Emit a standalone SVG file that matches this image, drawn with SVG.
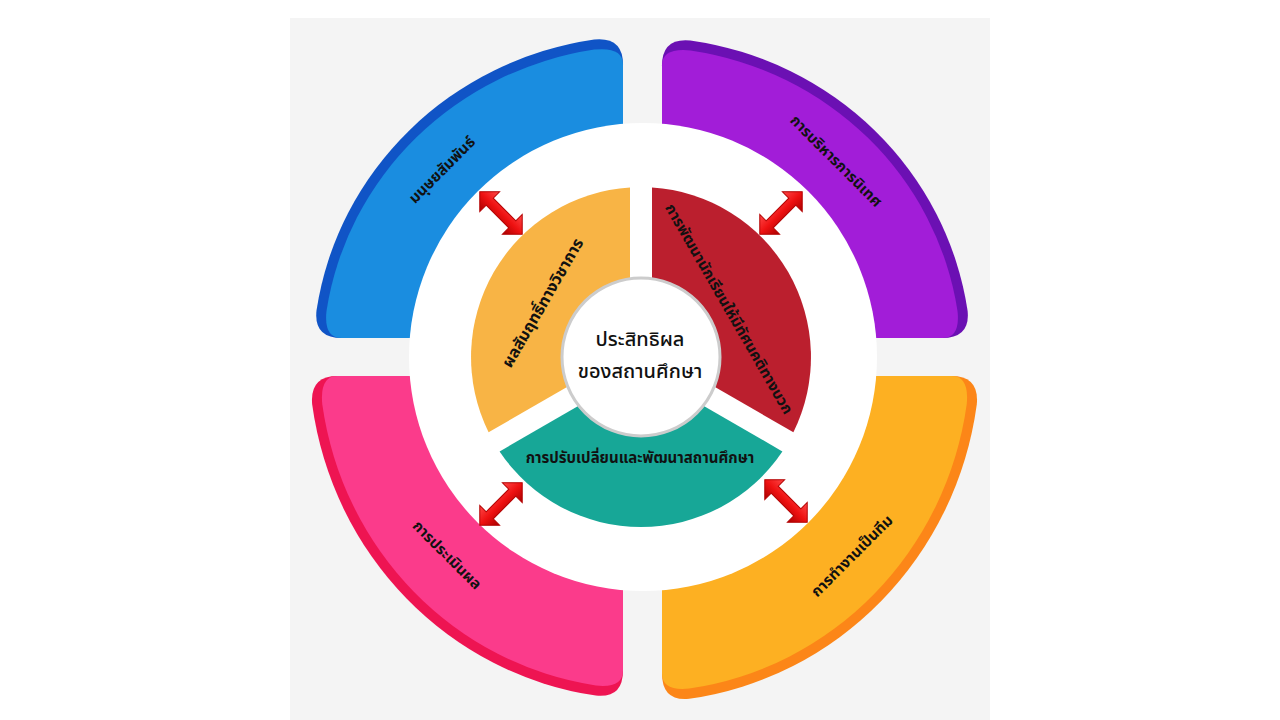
<svg xmlns="http://www.w3.org/2000/svg" width="1280" height="720" viewBox="0 0 1280 720">
<defs>
<style>
.th{font-family:"Noto Sans Thai","Noto Sans","Leelawadee UI","DejaVu Sans",sans-serif;fill:#111;}
.b{font-weight:bold;}
.pt{font-size:15px;}
.it{font-size:16px;}
.it2{font-size:15px;}
.ct{font-size:20px;font-weight:500;}
.arrow{fill:url(#ag);stroke:#b30000;stroke-width:1;}
</style>
<linearGradient id="ag" x1="0" y1="0" x2="0" y2="1">
<stop offset="0" stop-color="#ff4a4a"/>
<stop offset="0.5" stop-color="#ee1111"/>
<stop offset="1" stop-color="#a80000"/>
</linearGradient>
<path id="dbl" d="M-30,0 L-16,-14 L-16,-5 L16,-5 L16,-14 L30,0 L16,14 L16,5 L-16,5 L-16,14 Z"/>
</defs>
<rect x="0" y="0" width="1280" height="720" fill="#ffffff"/>
<rect x="290" y="18" width="700" height="702" fill="#f4f4f4"/>

<g id="petal-blue">
<path d="M623,338 L623,64.6 Q623,36.6 594.2,39.5 A330,321 0 0 0 316.5,310.6 Q313.6,338 341.6,338 Z" fill="#1054c6"/>
<path d="M623,338 L623,64.6 Q623,46.6 594.3,49.6 A320,311 0 0 0 326.5,311 Q323.6,338 341.6,338 Z" fill="#1a8de0"/>
</g>
<g id="petal-purple">
<path d="M662,338 L662,65.5 Q662,37.5 690.4,40.4 A328,320 0 0 1 967.6,310.8 Q970.4,338 942.4,338 Z" fill="#6b10b3"/>
<path d="M662,338 L662,65.5 Q662,47.6 690.5,50.5 A318,310 0 0 1 957.5,310.9 Q960.4,338 942.4,338 Z" fill="#a21dd8"/>
</g>
<g id="petal-pink">
<path d="M623,376 L337.5,376 Q309.5,376 312.2,404.6 A334,342 0 0 0 595.8,695.6 Q623,698.4 623,670.4 Z" fill="#ee1452"/>
<path d="M623,376 L337.5,376 Q319.5,376 322.3,404.6 A324,332 0 0 0 595.8,685.5 Q623,688.4 623,670.4 Z" fill="#fb3b8b"/>
</g>
<g id="petal-orange">
<path d="M662,376 L951.5,376 Q979.5,376 976.8,404.5 A337,345 0 0 1 689.2,698.8 Q662,701.5 662,673.5 Z" fill="#fc8618"/>
<path d="M662,376 L951.5,376 Q969.5,376 966.7,404.5 A327,335 0 0 1 689.2,688.6 Q662,691.4 662,673.5 Z" fill="#fdb022"/>
</g>

<circle id="ring" cx="643" cy="357" r="234" fill="#ffffff"/>

<g id="sector-yellow">
<path d="M630,350.65 L488.6,432.3 A170,170 0 0 1 630,187.4 Z" fill="#f8b445"/>
</g>
<g id="sector-red">
<path d="M652,350.65 L652,187.4 A170,170 0 0 1 793.4,432.3 Z" fill="#bb1f2e"/>
</g>
<g id="sector-teal">
<path d="M641,369.7 L782.4,451.4 A170,170 0 0 1 499.6,451.4 Z" fill="#17a797"/>
</g>
<g id="center">
<circle cx="641" cy="357" r="79" fill="#ffffff" stroke="#cccccc" stroke-width="3"/>
<text class="th ct" x="640" y="346" text-anchor="middle">ประสิทธิผล</text>
<text class="th ct" x="640" y="378" text-anchor="middle">ของสถานศึกษา</text>
</g>

<g id="labels-inner">
<text class="th b it" transform="translate(543,303) rotate(-60)" y="5" text-anchor="middle">ผลสัมฤทธิ์ทางวิชาการ</text>
<text class="th b it2" transform="translate(729,309) rotate(60)" y="5" text-anchor="middle">การพัฒนานักเรียนให้มีทัศนคติทางบวก</text>
<text class="th b it2" x="640" y="463" text-anchor="middle">การปรับเปลี่ยนและพัฒนาสถานศึกษา</text>
</g>
<g id="labels-outer">
<text class="th b pt" transform="translate(442,170) rotate(-45)" y="5" text-anchor="middle">มนุษยสัมพันธ์</text>
<text class="th b pt" transform="translate(836,161) rotate(45)" y="5" text-anchor="middle">การบริหารการนิเทศ</text>
<text class="th b pt" transform="translate(447,555) rotate(45)" y="5" text-anchor="middle">การประเมินผล</text>
<text class="th b pt" transform="translate(852,556) rotate(-45)" y="5" text-anchor="middle">การทำงานเป็นทีม</text>
</g>

<g id="connectors">
<use href="#dbl" class="arrow" transform="translate(501,213) rotate(45)"/>
<use href="#dbl" class="arrow" transform="translate(781,213) rotate(-45)"/>
<use href="#dbl" class="arrow" transform="translate(501,504) rotate(-45)"/>
<use href="#dbl" class="arrow" transform="translate(786,501) rotate(45)"/>
</g>
</svg>
